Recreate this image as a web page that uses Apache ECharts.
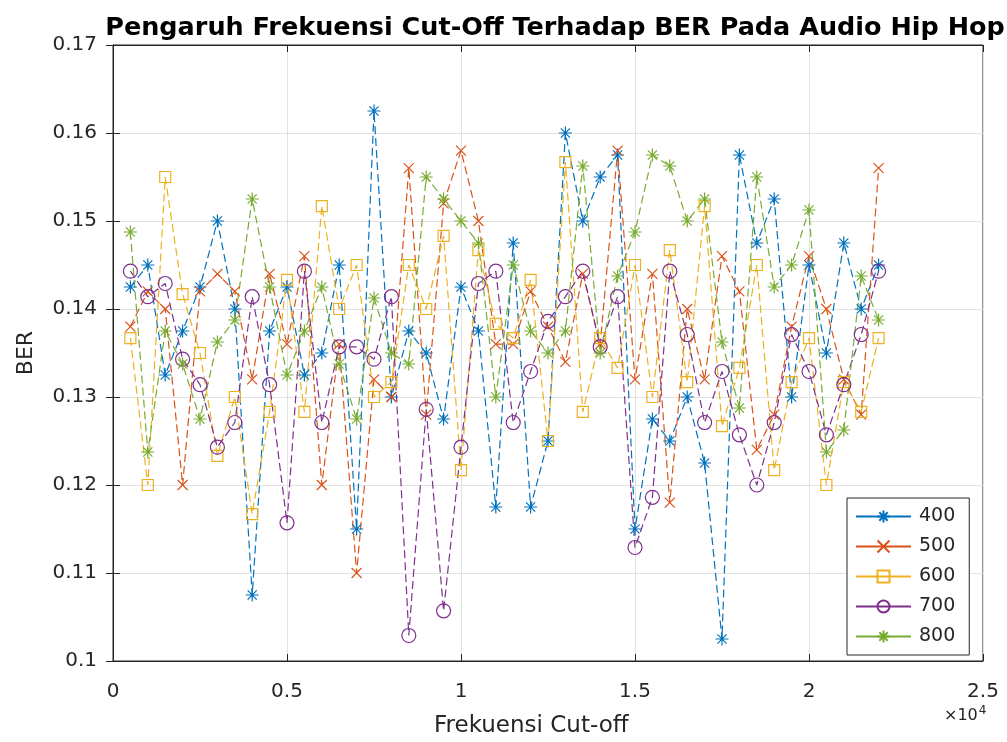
<!DOCTYPE html>
<html>
<head>
<meta charset="utf-8">
<script src="https://cdn.jsdelivr.net/npm/echarts@6/dist/echarts.min.js"></script>
<style>
  html, body { margin: 0; padding: 0; background: #fff; }
  #echart_show { width: 1007px; height: 742px; }
</style>
</head>
<body>
<div id="echart_show"></div>
<script>
// frekuensi cut-off (Hz)
var freq = [500, 1000, 1500, 2000, 2500, 3000, 3500, 4000, 4500, 5000, 5500,
    6000, 6500, 7000, 7500, 8000, 8500, 9000, 9500, 10000, 10500, 11000,
    11500, 12000, 12500, 13000, 13500, 14000, 14500, 15000, 15500, 16000,
    16500, 17000, 17500, 18000, 18500, 19000, 19500, 20000, 20500, 21000,
    21500, 22000];

var ber400 = [0.1425, 0.145, 0.1325, 0.1375, 0.1425, 0.15, 0.14, 0.1075, 0.1375, 0.1425, 0.1325,
    0.135, 0.145, 0.115, 0.1625, 0.13, 0.1375, 0.135, 0.1275, 0.1425, 0.1375, 0.1175,
    0.1475, 0.1175, 0.125, 0.16, 0.15, 0.155, 0.1575, 0.115, 0.1275, 0.125,
    0.13, 0.1225, 0.1025, 0.1575, 0.1475, 0.1525, 0.13, 0.145, 0.135, 0.1475,
    0.14, 0.145];

var ber500 = [0.138, 0.142, 0.140, 0.120, 0.142, 0.144, 0.142, 0.132, 0.144, 0.136, 0.146,
    0.120, 0.136, 0.110, 0.132, 0.130, 0.156, 0.128, 0.152, 0.158, 0.150, 0.136,
    0.136, 0.142, 0.138, 0.134, 0.144, 0.136, 0.158, 0.132, 0.144, 0.118,
    0.140, 0.132, 0.146, 0.142, 0.124, 0.128, 0.138, 0.146, 0.140, 0.132,
    0.128, 0.156];

var ber600 = [0.1367, 0.12, 0.155, 0.1417, 0.135, 0.1233, 0.13, 0.1167, 0.1283, 0.1433, 0.1283,
    0.1517, 0.14, 0.145, 0.13, 0.1317, 0.145, 0.14, 0.1483, 0.1217, 0.1467, 0.1383,
    0.1367, 0.1433, 0.125, 0.1567, 0.1283, 0.1367, 0.1333, 0.145, 0.13, 0.1467,
    0.1317, 0.1517, 0.1267, 0.1333, 0.145, 0.1217, 0.1317, 0.1367, 0.12, 0.1317,
    0.1283, 0.1367];

var ber700 = [0.1443, 0.1414, 0.1429, 0.1343, 0.1314, 0.1243, 0.1271, 0.1414, 0.1314, 0.1157, 0.1443,
    0.1271, 0.1357, 0.1357, 0.1343, 0.1414, 0.1029, 0.1286, 0.1057, 0.1243, 0.1429, 0.1443,
    0.1271, 0.1329, 0.1386, 0.1414, 0.1443, 0.1357, 0.1414, 0.1129, 0.1186, 0.1443,
    0.1371, 0.1271, 0.1329, 0.1257, 0.12, 0.1271, 0.1371, 0.1329, 0.1257, 0.1314,
    0.1371, 0.1443];

var ber800 = [0.14875, 0.12375, 0.1375, 0.13375, 0.1275, 0.13625, 0.13875, 0.1525, 0.1425, 0.1325, 0.1375,
    0.1425, 0.13375, 0.1275, 0.14125, 0.135, 0.13375, 0.155, 0.1525, 0.15, 0.1475, 0.13,
    0.145, 0.1375, 0.135, 0.1375, 0.15625, 0.135, 0.14375, 0.14875, 0.1575, 0.15625,
    0.15, 0.1525, 0.13625, 0.12875, 0.155, 0.1425, 0.145, 0.15125, 0.12375, 0.12625,
    0.14375, 0.13875];

var seriesNames = ['400', '500', '600', '700', '800'];
var xTicks = [0, 5000, 10000, 15000, 20000, 25000];
var yTicks = [0.1, 0.11, 0.12, 0.13, 0.14, 0.15, 0.16, 0.17];

var font = 'DejaVu Sans';
var ink = '#262626';
var colors = ['#0072BD', '#D95319', '#EDB120', '#7E2F8E', '#77AC30'];
var star = 'path://M5 0L5 10M0 5L10 5M1.5 1.5L8.5 8.5M1.5 8.5L8.5 1.5';
var cross = 'path://M0 0L10 10M0 10L10 0';
var markers = [star, cross, 'rect', 'circle', star];
var markerSize = [13, 10, 11, 14, 13];

var pairs = function (ys) {
    return freq.map(function (f, i) { return [f, ys[i]]; });
};

var makeSeries = function (idx, ys) {
    return {
        name: seriesNames[idx],
        type: 'line',
        data: pairs(ys),
        symbol: markers[idx],
        symbolSize: markerSize[idx],
        symbolKeepAspect: true,
        showAllSymbol: true,
        lineStyle: { color: colors[idx], width: 1.2, type: [8, 4] },
        itemStyle: { color: 'rgba(0,0,0,0)', borderColor: colors[idx], borderWidth: 1.2 },
        emphasis: { disabled: true },
        animation: false
    };
};

var my_chart = echarts.init(document.getElementById('echart_show'));

var option = {
    backgroundColor: '#fff',
    animation: false,
    title: {
        text: 'Pengaruh Frekuensi Cut-Off Terhadap BER Pada Audio Hip Hop',
        left: 550,
        top: 10,
        textAlign: 'center',
        textStyle: { fontFamily: font, fontWeight: 'bold', fontSize: 25.5, color: '#000' }
    },
    legend: {
        orient: 'vertical',
        left: 847,
        top: 498,
        padding: [9, 14, 9, 8],
        itemWidth: 55,
        itemHeight: 15,
        itemGap: 11,
        backgroundColor: '#fff',
        borderColor: ink,
        borderWidth: 1,
        borderRadius: 0,
        lineStyle: { type: 'solid' },
        textStyle: { fontFamily: font, fontSize: 19, color: ink, padding: [0, 0, 0, 3] },
        data: seriesNames
    },
    grid: {
        left: 113,
        right: 24,
        top: 45,
        bottom: 81,
        show: true,
        borderColor: ink,
        borderWidth: 1
    },
    xAxis: [{
        type: 'value',
        min: xTicks[0],
        max: xTicks[xTicks.length - 1],
        interval: xTicks[1] - xTicks[0],
        axisLine: { lineStyle: { color: ink } },
        axisTick: { inside: true, length: 7, lineStyle: { color: ink } },
        axisLabel: {
            margin: 21,
            fontFamily: font, fontSize: 20, color: ink,
            formatter: function (v) { return String(v / 10000); }
        },
        splitLine: { show: true, lineStyle: { color: '#e2e2e2', width: 1 } }
    }, {
        type: 'value',
        position: 'top',
        min: xTicks[0],
        max: xTicks[xTicks.length - 1],
        interval: xTicks[1] - xTicks[0],
        axisLine: { show: true, lineStyle: { color: ink } },
        axisTick: { inside: true, length: 7, lineStyle: { color: ink } },
        axisLabel: { show: false },
        splitLine: { show: false }
    }],
    yAxis: [{
        type: 'value',
        min: yTicks[0],
        max: yTicks[yTicks.length - 1],
        interval: 0.01,
        name: 'BER',
        nameLocation: 'middle',
        nameGap: 76,
        nameTextStyle: { fontFamily: font, fontSize: 22, color: ink },
        axisLine: { show: true, lineStyle: { color: ink } },
        axisTick: { inside: true, length: 7, lineStyle: { color: ink } },
        axisLabel: {
            margin: 16,
            fontFamily: font, fontSize: 20, color: ink,
            formatter: function (v) { return String(+v.toFixed(2)); }
        },
        splitLine: { show: true, lineStyle: { color: '#e2e2e2', width: 1 } }
    }, {
        type: 'value',
        position: 'right',
        min: yTicks[0],
        max: yTicks[yTicks.length - 1],
        interval: 0.01,
        axisLine: { show: true, lineStyle: { color: ink } },
        axisTick: { inside: true, length: 7, lineStyle: { color: ink } },
        axisLabel: { show: false },
        splitLine: { show: false }
    }],
    graphic: [{
        // label sumbu x
        type: 'text',
        left: 434,
        top: 715,
        style: { text: 'Frekuensi Cut-off', font: '23px "DejaVu Sans"', fill: ink }
    }, {
        // pengali sumbu x
        type: 'text',
        left: 944,
        top: 705,
        style: {
            text: '×10{s|4}',
            font: '16px "DejaVu Sans"',
            fill: ink,
            rich: { s: { fontSize: 12, verticalAlign: 'top', padding: [0, 0, 9, 1], fontFamily: font } }
        }
    }],
    series: [
        makeSeries(0, ber400),
        makeSeries(1, ber500),
        makeSeries(2, ber600),
        makeSeries(3, ber700),
        makeSeries(4, ber800)
    ]
};

my_chart.setOption(option);
</script>
</body>
</html>
